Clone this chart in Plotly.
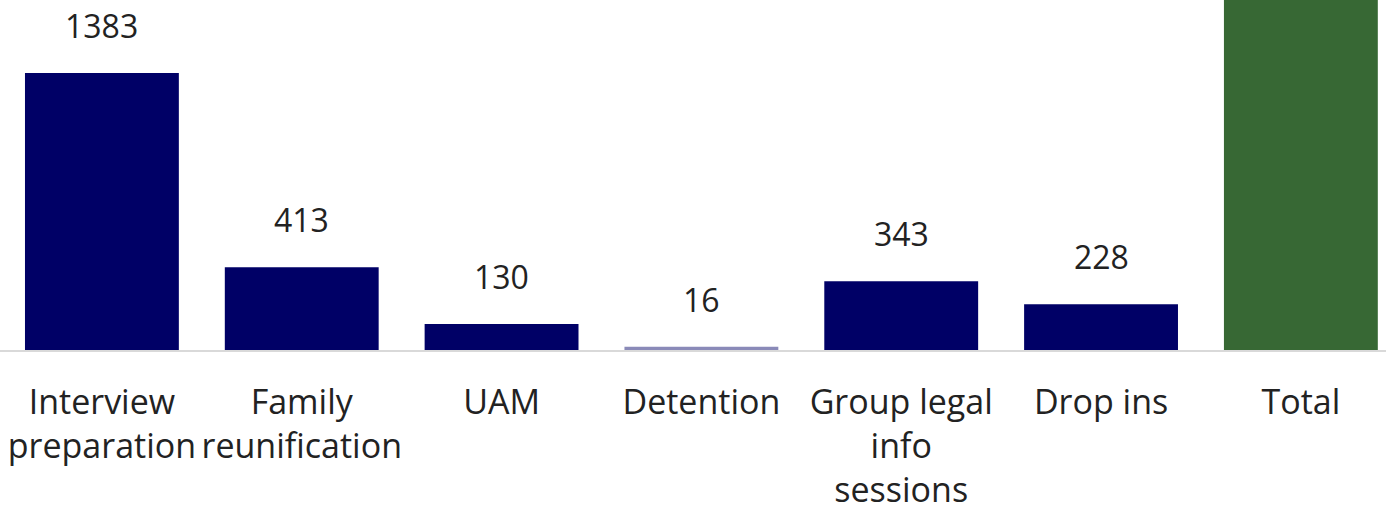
import plotly.graph_objects as go

categories = ["Interview<br>preparation", "Family<br>reunification", "UAM", "Detention",
              "Group legal<br>info<br>sessions", "Drop ins", "Total"]
values = [1383, 413, 130, 16, 343, 228, 2513]
labels = ["1383", "413", "130", "16", "343", "228", ""]
colors = ["#000066", "#000066", "#000066", "#8a8ab8", "#000066", "#000066", "#376834"]

x_idx = list(range(len(categories)))
FONT = "Open Sans"
TXT = "#222222"

fig = go.Figure()
fig.add_trace(go.Bar(
    x=x_idx, y=values,
    marker=dict(color=colors, line=dict(width=0)),
    width=0.77,
    hoverinfo="skip",
))

for xi, v, t in zip(x_idx, values, labels):
    if t:
        fig.add_annotation(x=xi, y=v, text=t, showarrow=False, yanchor="bottom",
                           yshift=24, font=dict(family=FONT, size=32, color=TXT))

fig.update_layout(
    width=1386, height=506,
    margin=dict(l=0, r=0, t=0, b=156, autoexpand=False),
    plot_bgcolor="white", paper_bgcolor="white",
    showlegend=False,
    font=dict(family=FONT, size=32, color=TXT),
)
fig.update_xaxes(
    tickmode="array", tickvals=x_idx, ticktext=categories,
    range=[-0.51, 6.426],
    automargin=False,
    showline=True, linecolor="#d9d9d9", linewidth=2,
    showgrid=False, zeroline=False, ticks="",
    ticklabelstandoff=21,
    tickfont=dict(family=FONT, size=34, color=TXT),
)
fig.update_yaxes(range=[0, 1747], visible=False, showgrid=False, zeroline=False, automargin=False)

fig.write_html("out.html", config={"displayModeBar": False},
               post_script="document.body.style.margin='0';document.body.style.overflow='hidden';")
